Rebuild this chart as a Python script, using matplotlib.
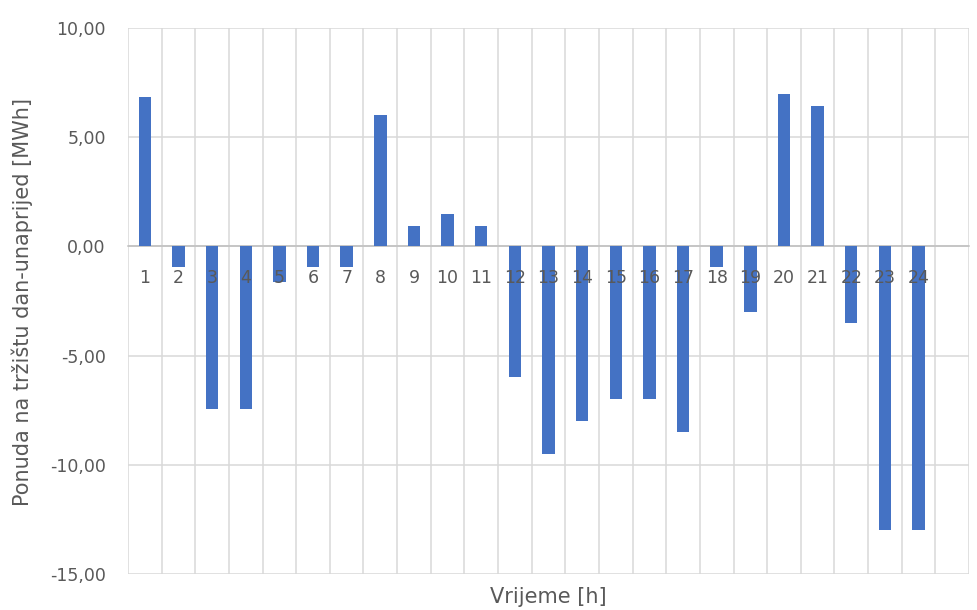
import matplotlib
matplotlib.use("Agg")
from matplotlib import pyplot as plt

plt.rcParams['font.family'] = ['DejaVu Sans']

hours = list(range(1, 25))
values = [6.85, -0.95, -7.45, -7.45, -1.65, -0.95, -0.95, 6.0, 0.95, 1.5, 0.95, -6.0,
          -9.5, -8.0, -7.0, -7.0, -8.5, -0.95, -3.0, 7.0, 6.45, -3.5, -13.0, -13.0]
y_ticks = [-15, -10, -5, 0, 5, 10]
y_labels = ["-15,00", "-10,00", "-5,00", "0,00", "5,00", "10,00"]

text_color = "#595959"
grid_color = "#D9D9D9"

fig = plt.figure(figsize=(9.78, 6.10), dpi=100)
ax = fig.add_axes([0.1309, 0.059, 0.8599, 0.895])

# bars under the tick labels, gridlines under the bars
ax.bar(hours, values, width=0.37, color="#4472C4", zorder=2)

ax.set_xlim(0.5, 25.5)
ax.set_ylim(-15, 10)

for x in [h - 0.5 for h in range(1, 27)]:
    ax.axvline(x, color=grid_color, linewidth=1.1, zorder=1)
for y in y_ticks:
    ax.axhline(y, color=grid_color, linewidth=1.1, zorder=1)
ax.set_yticks(y_ticks, y_labels)
ax.set_axisbelow(False)

for side in ["top", "right", "left"]:
    ax.spines[side].set_visible(False)
ax.spines["bottom"].set_position(("data", 0))
ax.spines["bottom"].set_color("#BFBFBF")
ax.spines["bottom"].set_linewidth(1.1)
ax.spines["bottom"].set_zorder(1.5)

ax.set_xticks(hours, [str(h) for h in hours])
ax.tick_params(axis="x", length=0, pad=16, labelsize=12.5, labelcolor=text_color)
ax.tick_params(axis="y", length=0, pad=16, labelsize=12.5, labelcolor=text_color)

fig.text(0.561, 0.021, "Vrijeme [h]", ha="center", va="center", fontsize=15, color=text_color)
fig.text(0.023, 0.505, "Ponuda na tržištu dan-unaprijed [MWh]", ha="center", va="center",
         rotation=90, fontsize=15, color=text_color)

fig.savefig("out.png", dpi=100)
